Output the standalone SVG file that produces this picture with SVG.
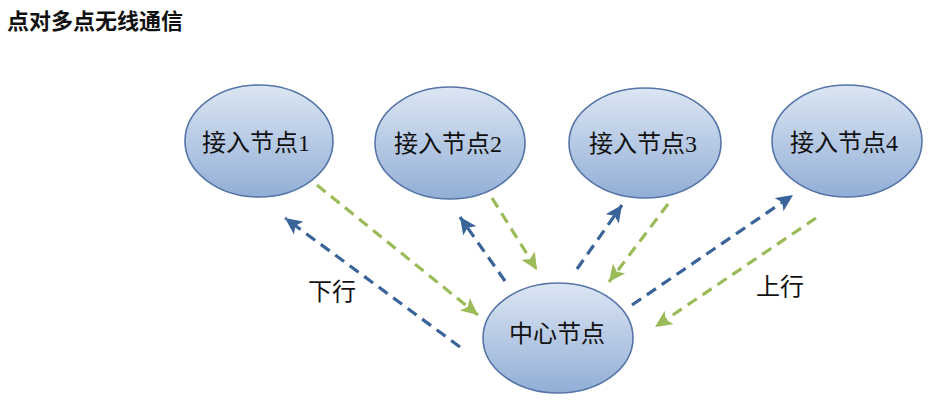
<svg xmlns="http://www.w3.org/2000/svg" width="946" height="404" viewBox="0 0 946 404">
<defs>
<linearGradient id="g" x1="0" y1="0" x2="0" y2="1">
<stop offset="0" stop-color="#DCE6F3"/>
<stop offset="1" stop-color="#92AED6"/>
</linearGradient>
<marker id="ab" markerUnits="userSpaceOnUse" markerWidth="18" markerHeight="16" refX="17" refY="8" orient="auto">
<path d="M0,0 L17,8 L0,16 L4,8 Z" fill="#3A6499"/>
</marker>
<marker id="ag" markerUnits="userSpaceOnUse" markerWidth="18" markerHeight="16" refX="17" refY="8" orient="auto">
<path d="M0,0 L17,8 L0,16 L4,8 Z" fill="#9BBB59"/>
</marker>
<style>
.n{fill:url(#g);stroke:#5575A8;stroke-width:1.6}
.t{font-family:"Liberation Serif","Noto Sans CJK SC",serif;font-size:24px;fill:#111;text-anchor:middle}
.b{stroke:#3A6499;stroke-width:3.2;stroke-dasharray:11 7;fill:none}
.gr{stroke:#9BBB59;stroke-width:3.2;stroke-dasharray:11 7;fill:none}
.title{font-family:"Noto Sans CJK SC",sans-serif;font-size:22px;font-weight:bold;fill:#111}
</style>
</defs>
<rect width="946" height="404" fill="#fff"/>
<text class="title" x="7" y="29">点对多点无线通信</text>
<g id="node1"><ellipse class="n" cx="259" cy="141" rx="74" ry="56"/><text class="t" x="256" y="151">接入节点1</text></g>
<g id="node2"><ellipse class="n" cx="450" cy="143" rx="75" ry="56"/><text class="t" x="448" y="152">接入节点2</text></g>
<g id="node3"><ellipse class="n" cx="645" cy="143" rx="76" ry="55"/><text class="t" x="643" y="152">接入节点3</text></g>
<g id="node4"><ellipse class="n" cx="847" cy="141" rx="75" ry="56"/><text class="t" x="844" y="151">接入节点4</text></g>
<g id="center"><ellipse class="n" cx="558" cy="338" rx="75" ry="55"/><text class="t" x="557" y="342">中心节点</text></g>
<g id="connectors">
<line class="b" x1="460" y1="347" x2="285" y2="218" marker-end="url(#ab)"/>
<line class="gr" x1="317" y1="185" x2="478" y2="315" marker-end="url(#ag)"/>
<line class="b" x1="505" y1="281" x2="460" y2="217" marker-end="url(#ab)"/>
<line class="gr" x1="492" y1="198" x2="537" y2="270" marker-end="url(#ag)"/>
<line class="b" x1="577" y1="269" x2="622" y2="205" marker-end="url(#ab)"/>
<line class="gr" x1="668" y1="204" x2="609" y2="282" marker-end="url(#ag)"/>
<line class="b" x1="632" y1="305" x2="793" y2="195" marker-end="url(#ab)"/>
<line class="gr" x1="816" y1="218" x2="655" y2="327" marker-end="url(#ag)"/>
</g>
<text class="t" x="332" y="300">下行</text>
<text class="t" x="780" y="295">上行</text>
</svg>
